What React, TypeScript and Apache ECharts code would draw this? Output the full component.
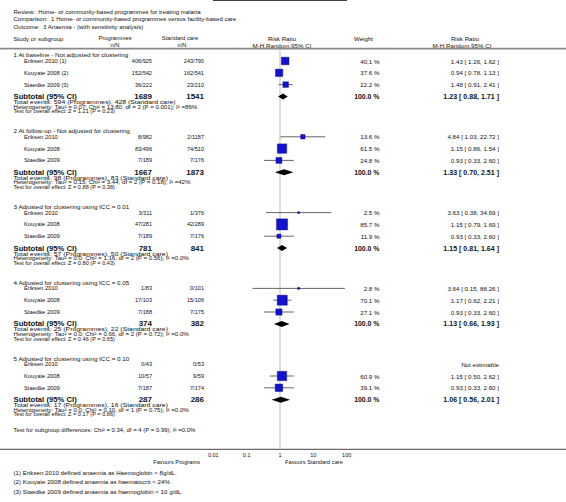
import React, { useEffect, useRef } from 'react';
import * as echarts from 'echarts';

const titleLines = [
  'Review:  Home- or community-based programmes for treating malaria',
  'Comparison:  1 Home- or community-based programmes versus facility-based care',
  'Outcome:  3 Anaemia - (with sensitivity analysis)',
];
const groupLabels = [
  '1 At baseline - Not adjusted for clustering',
  '2 At follow-up - Not adjusted for clustering',
  '3 Adjusted for clustering using ICC = 0.01',
  '4 Adjusted for clustering using ICC = 0.05',
  '5 Adjusted for clustering using ICC = 0.10',
];
const studyNames = [
  ['Eriksen 2010 (1)', 'Kouyate 2008 (2)', 'Staedke 2009 (3)'],
  ['Eriksen 2010', 'Kouyate 2008', 'Staedke 2009'],
  ['Eriksen 2010', 'Kouyate 2008', 'Staedke 2009'],
  ['Eriksen 2010', 'Kouyate 2008', 'Staedke 2009'],
  ['Eriksen 2010', 'Kouyate 2008', 'Staedke 2009'],
];
const progNN = [
  ['406/925', '152/542', '36/222'],
  ['8/982', '83/496', '7/189'],
  ['3/311', '47/281', '7/189'],
  ['1/83', '17/103', '7/188'],
  ['0/43', '10/57', '7/187'],
];
const stdNN = [
  ['243/790', '162/541', '23/210'],
  ['2/1187', '74/510', '7/176'],
  ['1/376', '42/289', '7/176'],
  ['0/101', '15/106', '7/175'],
  ['0/53', '9/59', '7/174'],
];
const weights = [
  [40.1, 37.6, 22.2],
  [13.6, 61.5, 24.8],
  [2.5, 85.7, 11.9],
  [2.8, 70.1, 27.1],
  [null, 60.9, 39.1],
];
const riskRatio = [
  [1.43, 0.94, 1.48],
  [4.84, 1.15, 0.93],
  [3.63, 1.15, 0.93],
  [3.64, 1.17, 0.93],
  [null, 1.15, 0.93],
];
const ciLow = [
  [1.26, 0.78, 0.91],
  [1.03, 0.86, 0.33],
  [0.38, 0.79, 0.33],
  [0.15, 0.62, 0.33],
  [null, 0.5, 0.33],
];
const ciHigh = [
  [1.62, 1.13, 2.41],
  [22.72, 1.54, 2.6],
  [34.69, 1.69, 2.6],
  [88.26, 2.21, 2.6],
  [null, 2.62, 2.6],
];
const progTotal = [1689, 1667, 781, 374, 287];
const stdTotal = [1541, 1873, 841, 382, 286];
const subRR = [1.23, 1.33, 1.15, 1.13, 1.06];
const subLow = [0.88, 0.7, 0.81, 0.66, 0.56];
const subHigh = [1.71, 2.51, 1.64, 1.93, 2.01];
const totalEvents = [
  'Total events: 594 (Programmes), 428 (Standard care)',
  'Total events: 98 (Programmes), 83 (Standard care)',
  'Total events: 57 (Programmes), 50 (Standard care)',
  'Total events: 25 (Programmes), 22 (Standard care)',
  'Total events: 17 (Programmes), 16 (Standard care)',
];
const heterogeneity = [
  'Heterogeneity: Tau² = 0.07; Chi² = 13.80, df = 2 (P = 0.001); I² =86%',
  'Heterogeneity: Tau² = 0.15; Chi² = 3.44, df = 2 (P = 0.18); I² =42%',
  'Heterogeneity: Tau² = 0.0; Chi² = 1.16, df = 2 (P = 0.56); I² =0.0%',
  'Heterogeneity: Tau² = 0.0; Chi² = 0.66, df = 2 (P = 0.72); I² =0.0%',
  'Heterogeneity: Tau² = 0.0; Chi² = 0.10, df = 1 (P = 0.75); I² =0.0%',
];
const overallEffect = [
  'Test for overall effect: Z = 1.21 (P = 0.23)',
  'Test for overall effect: Z = 0.88 (P = 0.38)',
  'Test for overall effect: Z = 0.80 (P = 0.43)',
  'Test for overall effect: Z = 0.46 (P = 0.65)',
  'Test for overall effect: Z = 0.17 (P = 0.86)',
];
const subgroupTest = 'Test for subgroup differences: Chi² = 0.34, df = 4 (P = 0.99), I² =0.0%';
const favoursLeft = 'Favours Programs';
const favoursRight = 'Favours Standard care';
const footnotes = [
  '(1) Eriksen 2010 defined anaemia as Haemoglobin < 8g/dL.',
  '(2) Kouyate 2008 defined anaemia as haematocrit < 24%',
  '(3) Staedke 2009 defined anaemia as haemoglobin < 10 g/dL.',
];

// ---- layout constants ----
const W = 566;
const H = 502;
const AXIS_Y = 449.3;
const FONT = '"Liberation Sans", Arial, Helvetica, sans-serif';
const X_LEFT = 13.5;
const X_STUDY = 24;
const X_PROG_R = 152;
const X_STD_R = 204;
const X_W_R = 379.5;
const X_RR_R = 499;
const G_FIRST = 61;
const G_STRIDE = 75.8;
const ROW = 11.8;
const INK = '#111';

const f2 = (v: number) => v.toFixed(2);

export default function App() {
  const ref = useRef<HTMLDivElement>(null);
  useEffect(() => {
    document.body.style.margin = '0';
    const chart = echarts.init(ref.current!, null, { renderer: 'svg' });

    const txt = (
      x: number,
      y: number,
      text: string,
      size: number,
      align = 'left',
      bold = false,
      sy = 1
    ) => ({
      type: 'text',
      x,
      y,
      scaleY: sy,
      silent: true,
      style: {
        text,
        fontSize: size,
        fontFamily: FONT,
        fontWeight: bold ? 'bold' : 'normal',
        fill: INK,
        textAlign: align,
        textVerticalAlign: 'middle',
      },
    });

    const graphics: any[] = [];
    titleLines.forEach((t, i) => graphics.push(txt(X_LEFT, 12 + i * 7.6, t, 6.05, 'left', false, 0.9)));
    graphics.push(txt(X_LEFT, 38, 'Study or subgroup', 6.1));
    graphics.push(txt(115, 38, 'Programmes', 5.8, 'center'));
    graphics.push(txt(115, 45, 'n/N', 5.8, 'center'));
    graphics.push(txt(180, 38, 'Standard care', 5.8, 'center'));
    graphics.push(txt(182, 45, 'n/N', 5.8, 'center'));
    graphics.push(txt(282, 38, 'Risk Ratio', 6.2, 'center'));
    graphics.push(txt(282, 45, 'M-H,Random,95% CI', 6.2, 'center'));
    graphics.push(txt(363.5, 38, 'Weight', 6.2, 'center'));
    graphics.push(txt(465, 38, 'Risk Ratio', 6.2, 'center'));
    graphics.push(txt(462, 45, 'M-H,Random,95% CI', 6.2, 'center'));
    graphics.push({
      type: 'line', silent: true,
      shape: { x1: 0, y1: 48.6, x2: W, y2: 48.6 },
      style: { stroke: '#8a8a8a', lineWidth: 1.6 },
    });
    graphics.push({
      type: 'line', silent: true,
      shape: { x1: 0, y1: AXIS_Y, x2: W, y2: AXIS_Y },
      style: { stroke: '#444', lineWidth: 1 },
    });

    const ciData: any[] = [];
    const boxData: any[] = [];
    const diamondData: any[] = [];

    groupLabels.forEach((g, gi) => {
      const first = G_FIRST + gi * G_STRIDE;
      graphics.push(txt(X_LEFT, first - 5.5, g, 6.3, 'left', false, 0.88));
      studyNames[gi].forEach((name, si) => {
        const y = first + si * ROW;
        graphics.push(txt(X_STUDY, y, name, 5.8));
        graphics.push(txt(X_PROG_R, y, progNN[gi][si], 5.6, 'right'));
        graphics.push(txt(X_STD_R, y, stdNN[gi][si], 5.6, 'right'));
        const w = weights[gi][si];
        const r = riskRatio[gi][si];
        if (w == null || r == null) {
          graphics.push(txt(X_RR_R, y, 'Not estimable', 6.2, 'right'));
        } else {
          graphics.push(txt(X_W_R, y, w.toFixed(1) + ' %', 6.2, 'right'));
          graphics.push(
            txt(X_RR_R, y, `${f2(r)} [ ${f2(ciLow[gi][si] as number)}, ${f2(ciHigh[gi][si] as number)} ]`, 6.2, 'right')
          );
          ciData.push([ciLow[gi][si], ciHigh[gi][si], y]);
          boxData.push([r, y, w]);
        }
      });
      const ys = first + 35.5;
      graphics.push(txt(X_LEFT, ys, 'Subtotal (95% CI)', 7.7, 'left', true));
      graphics.push(txt(X_PROG_R, ys, String(progTotal[gi]), 8.0, 'right', true));
      graphics.push(txt(X_STD_R, ys, String(stdTotal[gi]), 8.0, 'right', true));
      graphics.push(txt(X_W_R, ys, '100.0 %', 6.9, 'right', true));
      graphics.push(
        txt(X_RR_R, ys, `${f2(subRR[gi])} [ ${f2(subLow[gi])}, ${f2(subHigh[gi])} ]`, 7.05, 'right', true)
      );
      diamondData.push([subLow[gi], subRR[gi], subHigh[gi], ys]);
      graphics.push(txt(X_LEFT, ys + 5.8, totalEvents[gi], 6.85, 'left', false, 0.7));
      graphics.push(txt(X_LEFT, ys + 10.4, heterogeneity[gi], 6.1, 'left', false, 0.76));
      graphics.push(txt(X_LEFT, ys + 15, overallEffect[gi], 5.6, 'left', false, 0.8));
    });
    graphics.push(txt(X_LEFT, 430.5, subgroupTest, 6.0, 'left', false, 0.85));
    graphics.push(txt(200, 461.5, favoursLeft, 5.7, 'right'));
    graphics.push(txt(285, 461.5, favoursRight, 5.7, 'left'));
    footnotes.forEach((t, i) => graphics.push(txt(X_LEFT, 473.5 + i * 9.1, t, 6.2, 'left', false, 0.9)));

    chart.setOption({
      animation: false,
      grid: { left: 213.33, width: 133.33, top: 0, height: AXIS_Y, containLabel: false },
      xAxis: {
        type: 'log',
        logBase: 10,
        min: 0.01,
        max: 100,
        axisLine: { show: true, lineStyle: { color: '#444', width: 1 } },
        axisTick: { show: true, inside: true, length: 3, lineStyle: { color: '#333', width: 0.8 } },
        axisLabel: {
          fontSize: 5.5,
          fontFamily: FONT,
          color: INK,
          margin: 3,
          formatter: (v: number) => String(v),
        },
        splitLine: { show: false },
        minorTick: { show: false },
      },
      yAxis: {
        type: 'value',
        min: 0,
        max: AXIS_Y,
        inverse: true,
        show: false,
        splitLine: { show: false },
      },
      graphic: graphics,
      series: [
        {
          type: 'line',
          data: [
            [1, 50],
            [1, AXIS_Y],
          ],
          symbol: 'none',
          silent: true,
          lineStyle: { color: '#cfcfcf', width: 1.4 },
          z: 1,
        },
        {
          type: 'custom',
          data: ciData,
          silent: true,
          z: 2,
          renderItem: (params: any, api: any) => {
            const a = api.coord([api.value(0), api.value(2)]);
            const b = api.coord([api.value(1), api.value(2)]);
            return {
              type: 'line',
              shape: { x1: a[0], y1: a[1], x2: b[0], y2: b[1] },
              style: { stroke: '#555', lineWidth: 0.9 },
            };
          },
        },
        {
          type: 'custom',
          data: boxData,
          silent: true,
          z: 3,
          renderItem: (params: any, api: any) => {
            const p = api.coord([api.value(0), api.value(1)]);
            const s = Math.max(1.2, 1.2 * Math.sqrt(api.value(2)));
            return {
              type: 'rect',
              shape: { x: p[0] - s / 2, y: p[1] - s / 2, width: s, height: s },
              style: { fill: '#1212d0', stroke: '#000070', lineWidth: 0.4 },
            };
          },
        },
        {
          type: 'custom',
          data: diamondData,
          silent: true,
          z: 3,
          renderItem: (params: any, api: any) => {
            const lo = api.coord([api.value(0), api.value(3)]);
            const c = api.coord([api.value(1), api.value(3)]);
            const hi = api.coord([api.value(2), api.value(3)]);
            const h = 3;
            return {
              type: 'polygon',
              shape: {
                points: [
                  [lo[0], lo[1]],
                  [c[0], c[1] - h],
                  [hi[0], hi[1]],
                  [c[0], c[1] + h],
                ],
              },
              style: { fill: '#000' },
            };
          },
        },
      ],
    });
    return () => chart.dispose();
  }, []);
  return <div ref={ref} style={{ width: W, height: H, background: '#fff' }} />;
}
